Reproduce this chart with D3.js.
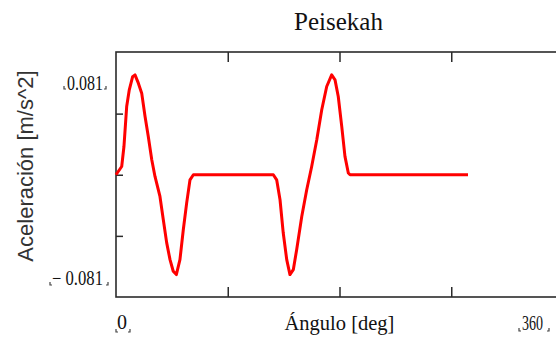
<!DOCTYPE html>
<html>
<head>
<meta charset="utf-8">
<script src="https://cdn.jsdelivr.net/npm/d3@7"></script>
<style>
  html, body { margin: 0; padding: 0; background: #fff; overflow: hidden; }
  svg { display: block; }
  .serif { font-family: "Liberation Serif", "Times New Roman", "DejaVu Serif", serif; }
  .sans { font-family: "Liberation Sans", Arial, sans-serif; }
</style>
</head>
<body>
<svg id="chart" width="556" height="339"></svg>
<script>
// Peisekah cam law: acceleration versus cam angle
const angleDeg = [0, 4.6, 6.4, 8.6, 10.7, 13.4, 15.3, 18.0, 20.7, 23.4, 26.0, 28.8, 31.4, 35.4,
  38.1, 40.8, 43.5, 46.1, 48.6, 51.5, 54.2, 56.9, 59.6, 62.3,
  126.7, 129.4, 132.1, 134.7, 137.5, 140.1, 142.8, 145.5, 149.6, 153.6, 157.6, 161.7,
  165.7, 169.7, 173.7, 176.4, 179.0, 181.8, 184.4, 187.1, 188.5, 283.5];
const accel = [0, 0.0067, 0.0229, 0.0553, 0.0689, 0.0796, 0.081, 0.0743, 0.0662, 0.0472, 0.0310, 0.0122, -0.0014, -0.0176,
  -0.0365, -0.0551, -0.0689, -0.0783, -0.081, -0.0689, -0.0446, -0.0230, -0.0041, 0,
  0, -0.0041, -0.0203, -0.0473, -0.0689, -0.081, -0.0770, -0.0608, -0.0338, -0.0122, 0.0067, 0.0284,
  0.0527, 0.0716, 0.081, 0.0770, 0.0635, 0.0392, 0.0149, 0.0014, 0, 0];

const xLimits = [0, 360];
const yLimitLabels = ["0.081", "\u2212 0.081"];
const xLimitLabels = ["0", "360"];
const xTickValues = [90, 180, 270];
const yTickValues = [-0.0496, 0, 0.0496];

const title = "Peisekah";
const xTitle = "\u00C1ngulo [deg]";
const yTitle = "Aceleraci\u00F3n [m/s^2]";

const svg = d3.select("#chart");
const frame = { left: 116, right: 563, top: 52, bottom: 297 };

const x = d3.scaleLinear().domain(xLimits).range([frame.left, frame.right]);
const y = d3.scaleLinear().domain([-0.0992, 0.0996]).range([frame.bottom, frame.top]);

// frame
svg.append("rect")
  .attr("x", frame.left).attr("y", frame.top)
  .attr("width", frame.right - frame.left).attr("height", frame.bottom - frame.top)
  .attr("fill", "none").attr("stroke", "#2b2b2b").attr("stroke-width", 1.6);

// inward ticks: bottom, top, left, right
const xAxisBottom = d3.axisBottom(x).tickValues(xTickValues).tickSize(-10).tickFormat("");
const xAxisTop = d3.axisTop(x).tickValues(xTickValues).tickSize(-10).tickFormat("");
const yAxisLeft = d3.axisLeft(y).tickValues(yTickValues).tickSize(-7).tickFormat("");
const yAxisRight = d3.axisRight(y).tickValues(yTickValues).tickSize(-7).tickFormat("");

function styleAxis(g, color, width) {
  g.select(".domain").remove();
  g.selectAll(".tick line").attr("stroke", color).attr("stroke-width", width);
}
svg.append("g").attr("transform", `translate(0,${frame.bottom})`).call(xAxisBottom).call(g => styleAxis(g, "#2b2b2b", 1.5));
svg.append("g").attr("transform", `translate(0,${frame.top})`).call(xAxisTop).call(g => styleAxis(g, "#2b2b2b", 1.5));
svg.append("g").attr("transform", `translate(${frame.left},0)`).call(yAxisLeft).call(g => styleAxis(g, "#2b2b2b", 1.5));
svg.append("g").attr("transform", `translate(${frame.right},0)`).call(yAxisRight).call(g => styleAxis(g, "#b0b0b0", 1));

// acceleration trace
const pts = angleDeg.map((d, i) => [d, accel[i]]);
svg.append("path")
  .datum(pts)
  .attr("fill", "none")
  .attr("stroke", "#ff0000")
  .attr("stroke-width", 3)
  .attr("stroke-linejoin", "round")
  .attr("d", d3.line().x(d => x(d[0])).y(d => y(d[1])));

// small corner marks framing the limit labels
function marks(x0, x1, yb) {
  const g = svg.append("g").attr("stroke", "#444").attr("stroke-width", 1.2).attr("fill", "none");
  g.append("path").attr("d", `M${x0},${yb - 3}V${yb}H${x0 + 2}`);
  g.append("path").attr("d", `M${x1},${yb - 3}V${yb}H${x1 - 2}`);
}

function label(txt, px, py, len) {
  return svg.append("text").text(txt)
    .attr("class", "serif")
    .attr("x", px).attr("y", py)
    .attr("font-size", 20).attr("fill", "#111")
    .attr("textLength", len).attr("lengthAdjust", "spacingAndGlyphs");
}

// y limit labels
label(yLimitLabels[0], 67, 90, 36);
marks(64, 106, 89);
label(yLimitLabels[1], 52, 285, 51);
marks(50, 108, 285);

// x limit labels
label(xLimitLabels[0], x(xLimits[0]) + 1, 329, 10);
marks(116, 130, 332);
label(xLimitLabels[1], 522, 330, 21);
marks(519, 549, 331);

// titles
svg.append("text").text(title)
  .attr("class", "serif")
  .attr("x", (frame.left + frame.right) / 2 - 1).attr("y", 30)
  .attr("text-anchor", "middle")
  .attr("font-size", 25).attr("fill", "#111");

svg.append("text").text(xTitle)
  .attr("class", "serif")
  .attr("x", (frame.left + frame.right) / 2).attr("y", 330)
  .attr("text-anchor", "middle")
  .attr("font-size", 20.5).attr("fill", "#111");

svg.append("text").text(yTitle)
  .attr("class", "sans")
  .attr("transform", "translate(33,166) rotate(-90)")
  .attr("text-anchor", "middle")
  .attr("font-size", 22).attr("fill", "#333");
</script>
</body>
</html>
